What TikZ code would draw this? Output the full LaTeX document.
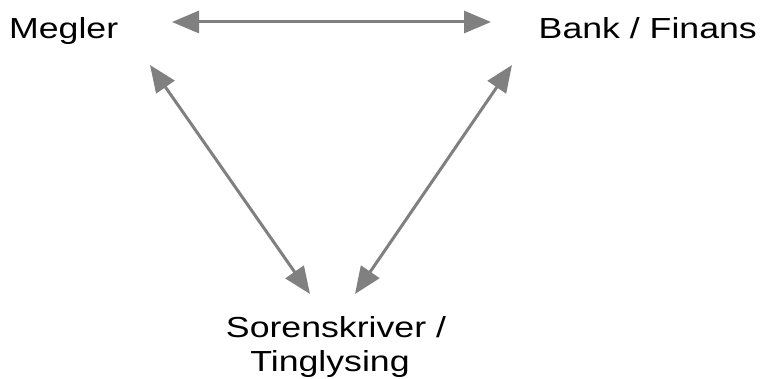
\documentclass[tikz,border=0pt]{standalone}
\usepackage{fontspec}
\setmainfont{Liberation Sans}[FakeStretch=1.23]
\usetikzlibrary{arrows.meta}
\definecolor{arrowgray}{RGB}{128,128,128}
\begin{document}
\begin{tikzpicture}[x=1pt,y=1pt,
  lbl/.style={inner sep=0pt, font=\fontsize{29}{34}\selectfont, text=black},
  link/.style={draw=arrowgray, line width=3pt,
    {Triangle[length=27pt,width=22pt]}-{Triangle[length=27pt,width=22pt]}}]
\useasboundingbox[fill=white] (0,0) rectangle (760,378);
\node[lbl, anchor=base west] (megler) at (9,339) {Megler};
\node[lbl, anchor=base east] (bank) at (757,339) {Bank / Finans};
\node[lbl, anchor=base] (sor) at (336,41) {Sorenskriver /};
\node[lbl, anchor=base] (ting) at (330,7) {Tinglysing};
\coordinate (mr) at (172,356);
\coordinate (bl) at (491,356);
\coordinate (md) at (150,313);
\coordinate (sl) at (310,84);
\coordinate (bd) at (512,313);
\coordinate (sr) at (355,84);
\draw[link] (mr) -- (bl);
\draw[link] (md) -- (sl);
\draw[link] (bd) -- (sr);
\end{tikzpicture}
\end{document}
